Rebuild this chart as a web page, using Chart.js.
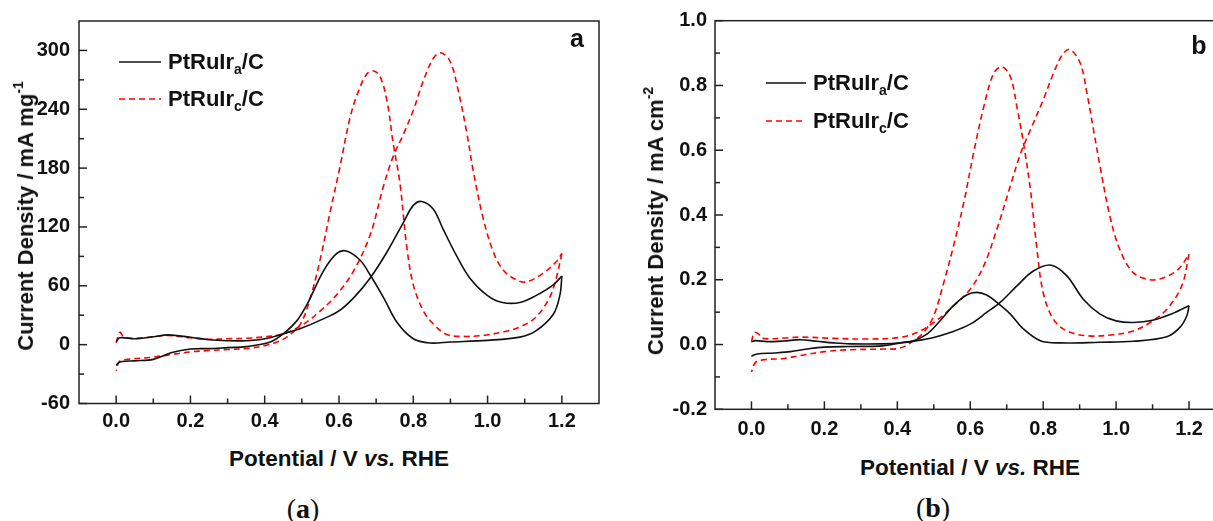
<!DOCTYPE html>
<html>
<head>
<meta charset="utf-8">
<script src="https://cdn.jsdelivr.net/npm/chart.js@4.4.1/dist/chart.umd.min.js"></script>
<style>
  html, body { margin: 0; padding: 0; background: #fff; overflow: hidden; }
  #page { position: relative; width: 1213px; height: 521px; overflow: hidden;
          font-family: "Liberation Sans", Arial, sans-serif; font-weight: bold; color: #111; }
  .plot { position: absolute; top: 0; }
  .ytitle { position: absolute; white-space: nowrap; font-size: 22px; transform: translate(-50%, -50%) rotate(-90deg); }
  .xtitle { position: absolute; white-space: nowrap; font-size: 22.5px; transform: translate(-50%, -50%); }
  .legend-row { position: absolute; display: flex; align-items: center; height: 30px; font-size: 22px; white-space: nowrap; }
  .legend-row svg { margin-right: 7px; }
  sub { font-size: 14px; line-height: 0; vertical-align: -5px; }
  sup { font-size: 14px; line-height: 0; vertical-align: 10px; }
  .panel { position: absolute; font-size: 25px; transform: translate(-50%, -50%); }
  .caption { position: absolute; font-family: "Liberation Serif", "Times New Roman", serif; font-weight: normal;
             font-size: 28px; transform: translate(-50%, -50%); white-space: nowrap; }
</style>
</head>
<body>
<div id="page">
  <div class="plot" style="left:0;width:606px;height:440px"><canvas id="chartA" width="606" height="440"></canvas></div>
  <div class="plot" style="left:606px;width:640px;height:450px"><canvas id="chartB" width="640" height="450"></canvas></div>

  <div class="ytitle" style="left:26px;top:216px">Current Density / mA mg<sup>-1</sup></div>
  <div class="xtitle" style="left:339px;top:459px">Potential / V <i>vs.</i> RHE</div>
  <div class="ytitle" style="left:656px;top:221px">Current Density / mA cm<sup>-2</sup></div>
  <div class="xtitle" style="left:970px;top:468px">Potential / V <i>vs.</i> RHE</div>

  <div class="legend-row" style="left:119px;top:47px">
    <svg width="42" height="4"><line x1="0" y1="2" x2="42" y2="2" stroke="#111" stroke-width="1.6"/></svg>
    <span>PtRuIr<sub>a</sub>/C</span>
  </div>
  <div class="legend-row" style="left:119px;top:84px">
    <svg width="42" height="4"><line x1="0" y1="2" x2="42" y2="2" stroke="#ff0000" stroke-width="1.6" stroke-dasharray="6 4"/></svg>
    <span>PtRuIr<sub>c</sub>/C</span>
  </div>
  <div class="legend-row" style="left:766px;top:68px">
    <svg width="40" height="4"><line x1="0" y1="2" x2="40" y2="2" stroke="#111" stroke-width="1.6"/></svg>
    <span>PtRuIr<sub>a</sub>/C</span>
  </div>
  <div class="legend-row" style="left:766px;top:106px">
    <svg width="40" height="4"><line x1="0" y1="2" x2="40" y2="2" stroke="#ff0000" stroke-width="1.6" stroke-dasharray="6 4"/></svg>
    <span>PtRuIr<sub>c</sub>/C</span>
  </div>

  <div class="panel" style="left:577px;top:38px">a</div>
  <div class="panel" style="left:1199px;top:45px">b</div>
  <div class="caption" style="left:303px;top:509px">(<b>a</b>)</div>
  <div class="caption" style="left:933px;top:508px">(<b>b</b>)</div>
</div>

<script>
// tick values and labels
const xTickValues = [0, 0.2, 0.4, 0.6, 0.8, 1.0, 1.2];
const xTickLabels = ['0.0', '0.2', '0.4', '0.6', '0.8', '1.0', '1.2'];
const xMinorValues = [0.1, 0.3, 0.5, 0.7, 0.9, 1.1];

const yTickValuesA = [-60, 0, 60, 120, 180, 240, 300];
const yTickLabelsA = ['-60', '0', '60', '120', '180', '240', '300'];
const yMinorValuesA = [-30, 30, 90, 150, 210, 270];

const yTickValuesB = [-0.2, 0, 0.2, 0.4, 0.6, 0.8, 1.0];
const yTickLabelsB = ['-0.2', '0.0', '0.2', '0.4', '0.6', '0.8', '1.0'];
const yMinorValuesB = [-0.1, 0.1, 0.3, 0.5, 0.7, 0.9];

// (a) mass activity, mA mg-1 -- PtRuIr_a/C
const aPtA_fwdV = [0, 0.01, 0.05, 0.1, 0.14, 0.2, 0.25, 0.3, 0.35, 0.4, 0.45, 0.5, 0.55, 0.6, 0.64, 0.684, 0.73, 0.774, 0.8, 0.823, 0.854, 0.88, 0.916, 0.952, 1.0, 1.04, 1.087, 1.13, 1.177, 1.2];
const aPtA_fwdI = [3, 7, 6, 8, 10, 7.5, 5, 4, 4, 6, 11, 17, 25, 34.5, 48, 68, 95, 125, 142, 146, 138, 118, 91, 68, 50, 43, 43, 50, 61, 70];
const aPtA_revV = [1.2, 1.195, 1.177, 1.13, 1.087, 1.0, 0.9, 0.845, 0.8, 0.756, 0.72, 0.684, 0.657, 0.62, 0.594, 0.558, 0.514, 0.487, 0.45, 0.415, 0.35, 0.3, 0.25, 0.2, 0.15, 0.1, 0.05, 0.012, 0];
const aPtA_revI = [70, 51, 31, 14, 7.7, 4.4, 2.7, 1.7, 6, 22.8, 48, 71, 86, 95.5, 93, 75, 41, 24.5, 11, 2.7, -2, -3, -4, -4.5, -8, -15, -16.5, -17.4, -21];

// (a) PtRuIr_c/C
const aPtC_fwdV = [0, 0.01, 0.02, 0.048, 0.093, 0.137, 0.2, 0.25, 0.3, 0.35, 0.4, 0.45, 0.505, 0.55, 0.594, 0.639, 0.684, 0.72, 0.746, 0.774, 0.8, 0.827, 0.854, 0.874, 0.899, 0.921, 0.944, 0.962, 0.988, 1.015, 1.042, 1.078, 1.105, 1.15, 1.185, 1.2];
const aPtC_fwdI = [2, 12.6, 8.3, 6.7, 7.7, 9.4, 7, 5.5, 6, 6.5, 8, 11, 21, 34.5, 51, 75, 112, 162, 192, 215, 239, 269, 292, 297.6, 289, 259, 216, 176, 129, 95, 76, 66, 64, 73, 84.5, 93];
const aPtC_revV = [1.2, 1.185, 1.167, 1.13, 1.087, 1.042, 0.988, 0.935, 0.89, 0.854, 0.827, 0.8, 0.782, 0.764, 0.746, 0.729, 0.71, 0.693, 0.675, 0.653, 0.63, 0.603, 0.576, 0.55, 0.523, 0.496, 0.46, 0.433, 0.4, 0.35, 0.3, 0.25, 0.2, 0.137, 0.093, 0.03, 0.008, 0];
const aPtC_revI = [93, 68, 48, 28, 18, 13, 9.4, 8.4, 10.4, 21, 34.5, 61, 101, 165, 205, 249, 274, 279, 276, 259, 232, 182, 135, 88, 48, 21, 8, 2.7, -1, -4, -5, -6, -7.4, -10.7, -13, -15, -17.4, -26.5];

// (b) specific activity, mA cm-2 -- PtRuIr_a/C
const bPtA_fwdV = [0, 0.01, 0.043, 0.089, 0.134, 0.18, 0.226, 0.27, 0.36, 0.408, 0.454, 0.5, 0.545, 0.6, 0.645, 0.682, 0.728, 0.773, 0.822, 0.865, 0.91, 0.956, 1.0, 1.047, 1.1, 1.157, 1.2];
const bPtA_fwdI = [0.008, 0.012, 0.009, 0.011, 0.015, 0.01, 0.005, 0.002, 0.002, 0.005, 0.012, 0.022, 0.037, 0.063, 0.099, 0.13, 0.181, 0.227, 0.245, 0.212, 0.14, 0.094, 0.073, 0.068, 0.075, 0.097, 0.12];
const bPtA_revV = [1.2, 1.194, 1.175, 1.139, 1.047, 0.956, 0.846, 0.792, 0.746, 0.71, 0.673, 0.645, 0.618, 0.59, 0.554, 0.518, 0.481, 0.445, 0.408, 0.36, 0.27, 0.2, 0.152, 0.107, 0.061, 0.015, 0];
const bPtA_revI = [0.12, 0.089, 0.053, 0.024, 0.01, 0.007, 0.005, 0.012, 0.048, 0.094, 0.13, 0.153, 0.161, 0.153, 0.12, 0.074, 0.032, 0.012, 0.005, -0.004, -0.006, -0.008, -0.014, -0.022, -0.026, -0.029, -0.036];

// (b) PtRuIr_c/C
const bPtC_fwdV = [0, 0.008, 0.02, 0.03, 0.089, 0.134, 0.226, 0.317, 0.408, 0.454, 0.5, 0.545, 0.6, 0.637, 0.673, 0.71, 0.738, 0.765, 0.8, 0.828, 0.855, 0.874, 0.902, 0.92, 0.938, 0.956, 0.983, 1.01, 1.047, 1.093, 1.13, 1.17, 1.2];
const bPtC_fwdI = [0.009, 0.037, 0.032, 0.019, 0.02, 0.023, 0.019, 0.017, 0.022, 0.037, 0.068, 0.11, 0.171, 0.243, 0.356, 0.49, 0.59, 0.663, 0.755, 0.837, 0.899, 0.911, 0.868, 0.776, 0.663, 0.55, 0.396, 0.294, 0.222, 0.2, 0.206, 0.232, 0.279];
const bPtC_revV = [1.2, 1.18, 1.139, 1.093, 1.047, 0.992, 0.92, 0.865, 0.828, 0.8, 0.782, 0.765, 0.746, 0.728, 0.71, 0.687, 0.664, 0.637, 0.609, 0.582, 0.554, 0.527, 0.5, 0.472, 0.445, 0.408, 0.36, 0.27, 0.2, 0.134, 0.089, 0.034, 0.011, 0];
const bPtC_revI = [0.279, 0.181, 0.109, 0.068, 0.042, 0.03, 0.027, 0.042, 0.078, 0.16, 0.304, 0.478, 0.622, 0.734, 0.827, 0.858, 0.837, 0.734, 0.591, 0.437, 0.304, 0.19, 0.089, 0.037, 0.012, -0.011, -0.014, -0.016, -0.022, -0.034, -0.043, -0.047, -0.055, -0.085];

const BLACK = '#111111';
const RED = '#ff0000';
const TICK_FONT = { family: "'Liberation Sans', Arial, sans-serif", size: 20, weight: 700 };

function points(vs, is) {
  return vs.map((v, i) => ({ x: v, y: is[i] }));
}

function curve(vs, is, color, dashed) {
  return {
    data: points(vs, is),
    borderColor: color,
    borderWidth: 1.6,
    borderDash: dashed ? [6, 4] : [],
    pointRadius: 0,
    tension: 0.35,
    fill: false
  };
}

// labelled + minor ticks on one axis
function tickSetter(values, labels, minor) {
  return scale => {
    const list = values.map((v, i) => ({ value: v, text: labels[i] }))
      .concat(minor.map(v => ({ value: v, text: '' })));
    list.sort((a, b) => a.value - b.value);
    scale.ticks = list;
  };
}

// box around the plot and inward tick marks
const frame = {
  id: 'frame',
  afterDraw(chart) {
    const { ctx, chartArea: a } = chart;
    ctx.save();
    ctx.strokeStyle = '#222';
    ctx.lineWidth = 1.5;
    ctx.strokeRect(a.left, a.top, a.right - a.left, a.bottom - a.top);
    const xs = chart.scales.x;
    xs.ticks.forEach(t => {
      const px = xs.getPixelForValue(t.value);
      const len = t.text ? 8 : 5;
      ctx.beginPath();
      ctx.moveTo(px, a.bottom);
      ctx.lineTo(px, a.bottom - len);
      ctx.stroke();
    });
    const ys = chart.scales.y;
    ys.ticks.forEach(t => {
      const py = ys.getPixelForValue(t.value);
      const len = t.text ? 8 : 5;
      ctx.beginPath();
      ctx.moveTo(a.left, py);
      ctx.lineTo(a.left + len, py);
      ctx.stroke();
    });
    ctx.restore();
  }
};

function makeChart(id, datasets, cfg) {
  return new Chart(document.getElementById(id), {
    type: 'line',
    data: { datasets: datasets },
    options: {
      responsive: false,
      animation: false,
      layout: { padding: cfg.padding },
      plugins: { legend: { display: false }, tooltip: { enabled: false } },
      scales: {
        x: {
          type: 'linear',
          min: -0.1,
          max: 1.3,
          grid: { display: false, drawTicks: false, tickLength: 0 },
          border: { display: false },
          afterBuildTicks: tickSetter(xTickValues, xTickLabels, xMinorValues),
          afterFit: s => { s.height = cfg.xHeight; },
          ticks: {
            color: '#111',
            font: TICK_FONT,
            padding: cfg.xPad,
            maxRotation: 0,
            autoSkip: false,
            callback: (v, i, ticks) => ticks[i].text
          }
        },
        y: {
          type: 'linear',
          min: cfg.yMin,
          max: cfg.yMax,
          grid: { display: false, drawTicks: false, tickLength: 0 },
          border: { display: false },
          afterBuildTicks: tickSetter(cfg.yValues, cfg.yLabels, cfg.yMinor),
          afterFit: s => { s.width = cfg.yWidth; },
          ticks: {
            color: '#111',
            font: TICK_FONT,
            padding: cfg.yPad,
            autoSkip: false,
            callback: (v, i, ticks) => ticks[i].text
          }
        }
      }
    },
    plugins: [frame]
  });
}

makeChart('chartA', [
  curve(aPtA_fwdV, aPtA_fwdI, BLACK, false),
  curve(aPtA_revV, aPtA_revI, BLACK, false),
  curve(aPtC_fwdV, aPtC_fwdI, RED, true),
  curve(aPtC_revV, aPtC_revI, RED, true)
], {
  padding: { left: 0, top: 16, right: 7, bottom: 0 },
  xHeight: 36.5, xPad: 6, yWidth: 79, yPad: 9,
  yMin: -60, yMax: 330,
  yValues: yTickValuesA, yLabels: yTickLabelsA, yMinor: yMinorValuesA
});

makeChart('chartB', [
  curve(bPtA_fwdV, bPtA_fwdI, BLACK, false),
  curve(bPtA_revV, bPtA_revI, BLACK, false),
  curve(bPtC_fwdV, bPtC_fwdI, RED, true),
  curve(bPtC_revV, bPtC_revI, RED, true)
], {
  padding: { left: 0, top: 20.7, right: 20.5, bottom: 0 },
  xHeight: 40.7, xPad: 8, yWidth: 109, yPad: 8,
  yMin: -0.2, yMax: 1.0,
  yValues: yTickValuesB, yLabels: yTickLabelsB, yMinor: yMinorValuesB
});
</script>
</body>
</html>
